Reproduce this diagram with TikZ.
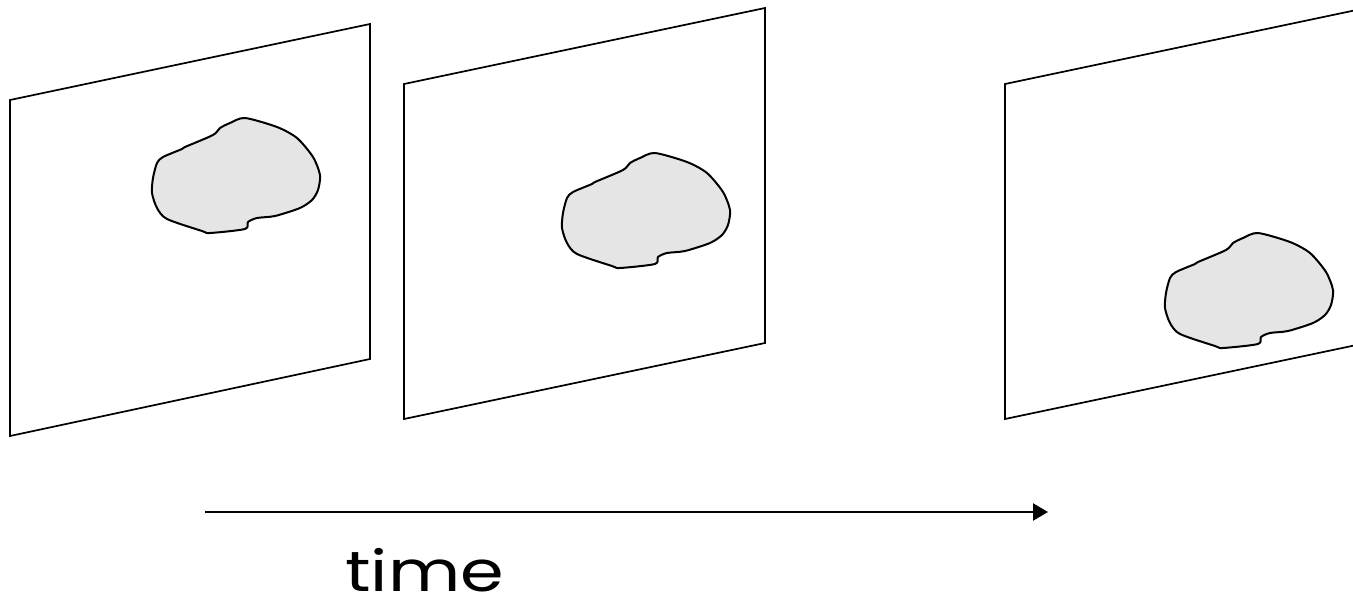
\documentclass[tikz,border=0pt]{standalone}
\usepackage{fontspec}
\newfontfamily\timefont{Poppins}
\usetikzlibrary{arrows.meta}
\tikzset{
  framebox/.style={draw=black, line width=1.7pt, fill=white, line join=miter},
  blobshape/.style={draw=black, line width=2pt, fill=black!10, line join=round},
  timearrow/.style={line width=2.4pt, -{Triangle[length=15pt,width=17pt]}},
  blob/.pic={
    \draw[blobshape] plot[smooth cycle, tension=0.45] coordinates {
      (0,0) (32,9) (52,20) (68,39) (75,57) (73,72) (67,82) (55,90) (30,98)
      (12,100) (3,104) (0,111) (-35,115) (-43,113) (-78,101) (-88,90)
      (-93,75) (-92,60) (-88,45) (-82,39) (-63,31) (-60,29) (-32,17)
      (-25,10) (-15,5)};
  }
}
\begin{document}
\begin{tikzpicture}[x=1pt, y=-1pt]
\useasboundingbox (0,0) rectangle (1353,602);
\clip (0,0) rectangle (1353,602);
% frame 1
\coordinate (f1a) at (10,100);
\coordinate (f1b) at (370,24);
\coordinate (f1c) at (370,359);
\coordinate (f1d) at (10,436);
\draw[framebox] (f1a) -- (f1b) -- (f1c) -- (f1d) -- cycle;
\pic at (245,118) {blob};
% frame 2
\coordinate (f2a) at (404,84);
\coordinate (f2b) at (765,8);
\coordinate (f2c) at (765,343);
\coordinate (f2d) at (404,419);
\draw[framebox] (f2a) -- (f2b) -- (f2c) -- (f2d) -- cycle;
\pic at (655,153) {blob};
% frame 3
\coordinate (f3a) at (1005,84);
\coordinate (f3b) at (1366,8);
\coordinate (f3c) at (1366,343);
\coordinate (f3d) at (1005,419);
\draw[framebox] (f3a) -- (f3b) -- (f3c) -- (f3d) -- cycle;
\pic at (1258,233) {blob};
% time arrow
\coordinate (ts) at (205,512);
\coordinate (te) at (1048,512);
\draw[timearrow] (ts) -- (te);
\node[anchor=base west, inner sep=0pt] (timelabel) at (345,591)
  {\scalebox{1.3}[1.05]{\timefont\fontsize{54}{54}\selectfont time}};
\end{tikzpicture}
\end{document}
